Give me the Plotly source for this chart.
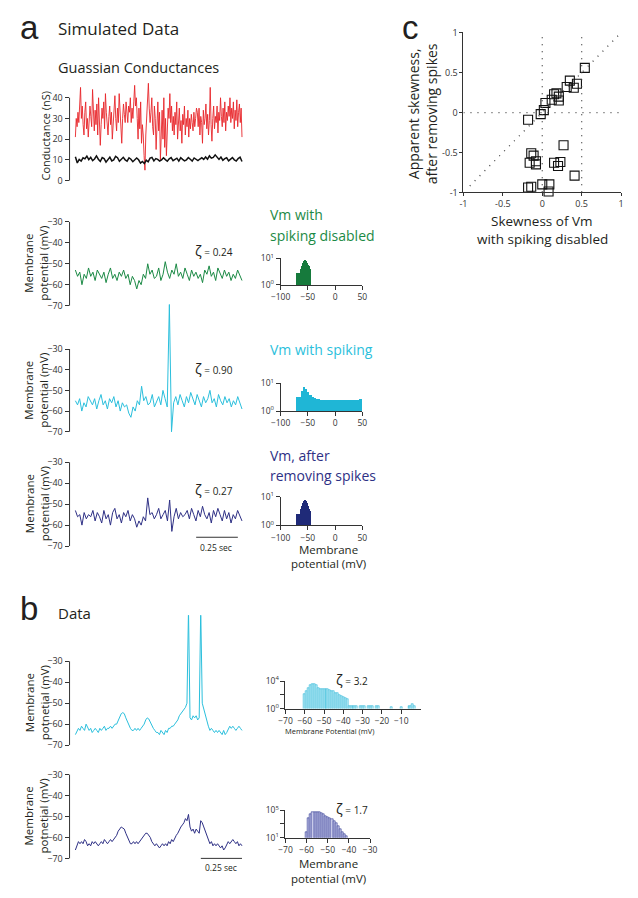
import numpy as np
import plotly.graph_objects as go

# the page keeps an 8px body margin, so the figure is drawn 16px smaller than the window
PAGE_W, PAGE_H, M = 638, 898, 8
W, H = PAGE_W - 2 * M, PAGE_H - 2 * M
FONT = "Open Sans"
INK = "#231f20"
RED = "#e8262a"
GREEN = "#1b8a45"
CYAN = "#2bbfdc"
NAVY = "#2e3085"

# ---------------- panel a: simulated data ----------------
g_exc = [21, 30, 26, 33, 28, 38, 45, 30, 36, 27, 22, 33, 38, 25, 30, 21, 28, 36, 31, 26,
         44, 30, 24, 34, 27, 37, 22, 40, 29, 17, 27, 35, 30, 38, 25, 42, 33, 28, 22, 31,
         36, 27, 33, 20, 29, 38, 41, 30, 24, 35, 28, 42, 35, 26, 18, 30, 37, 32, 28, 38,
         30, 28, 36, 33, 40, 28, 35, 30, 38, 46, 36, 40, 30, 20, 35, 25, 38, 18, 27, 22,
         12, 5, 22, 30, 38, 47, 35, 28, 33, 40, 26, 22, 36, 30, 15, 28, 38, 24, 33, 10,
         26, 34, 20, 40, 16, 30, 12, 27, 35, 30, 42, 28, 36, 24, 31, 22, 33, 27, 38, 20,
         30, 35, 24, 29, 18, 32, 27, 36, 22, 30, 26, 34, 21, 30, 25, 32, 28, 24, 33, 26,
         30, 35, 33, 26, 35, 22, 31, 28, 18, 34, 27, 30, 37, 25, 32, 22, 29, 45, 27, 19,
         30, 36, 25, 31, 28, 36, 23, 33, 29, 40, 31, 26, 35, 28, 38, 24, 33, 29, 36, 31,
         40, 28, 35, 30, 38, 25, 34, 29, 39, 26, 33, 37, 28, 35, 21]
g_inh = [11.5, 8.5, 10.2, 9.4, 11.0, 10.5, 11.8, 10.1, 11.2, 9.6, 10.4, 11.9, 10.3, 9.2, 11.1,
         10.6, 8.9, 10.2, 11.3, 9.5, 10.0, 11.7, 11.0, 9.3, 10.4, 11.2, 10.0, 9.4, 11.0, 10.3,
         9.1, 10.2, 10.9, 10.0, 8.4, 9.2, 8.2, 9.8, 9.0, 10.8, 11.2, 9.5, 10.6, 10.2, 9.4,
         10.0, 11.0, 10.1, 9.3, 10.5, 11.1, 9.6, 10.2, 10.8, 9.4, 11.0, 10.2, 9.5, 10.0, 11.1,
         10.3, 9.4, 10.9, 10.0, 9.6, 10.4, 11.0, 10.2, 11.4, 10.3, 11.9, 10.8, 11.2, 12.4, 11.0,
         10.2, 11.3, 9.8, 10.6, 11.0, 9.5, 10.2, 11.1, 10.0, 9.4, 10.6, 11.3, 9.2]

vm_nospike = [-53, -56, -54, -60, -55, -57, -52, -56, -54, -58, -53, -55, -57, -54, -59, -55,
              -52, -57, -55, -58, -54, -56, -53, -57, -55, -60, -56, -58, -62, -58, -60, -55,
              -57, -50, -55, -53, -57, -56, -52, -58, -55, -49, -54, -57, -53, -55, -50, -56,
              -54, -57, -52, -55, -58, -53, -56, -54, -57, -55, -59, -53, -55, -51, -56, -54,
              -58, -52, -55, -57, -53, -56, -54, -58, -55, -57, -53, -56, -58]
vm_spiking = [-55, -57, -54, -60, -56, -58, -53, -55, -57, -54, -59, -55, -52, -57, -55, -59,
              -54, -56, -53, -58, -55, -60, -56, -58, -57, -61, -63, -58, -60, -55, -57, -48,
              -55, -53, -57, -56, -52, -58, -55, -53, -57, -50, -54, -58, -8.5, -70, -56, -53,
              -57, -52, -55, -58, -53, -56, -51, -54, -57, -52, -55, -58, -53, -56, -54, -50,
              -56, -54, -58, -52, -55, -57, -53, -56, -54, -58, -55, -57, -53, -56, -59]
vm_removed = [-53, -56, -55, -60, -54, -57, -55, -56, -53, -58, -54, -56, -59, -53, -57, -55,
              -60, -54, -52, -57, -55, -59, -54, -56, -53, -58, -55, -57, -61, -58, -60, -56,
              -58, -47, -55, -54, -57, -55, -52, -57, -55, -53, -58, -48, -63, -56, -52, -57,
              -54, -56, -55, -53, -57, -52, -55, -58, -53, -56, -51, -55, -57, -54, -59, -53,
              -56, -52, -55, -58, -53, -57, -54, -59, -55, -57, -53, -56, -58]

# histograms (bin centres in mV, counts)
sim_bins = [-70, -68, -66, -64, -62, -60, -58, -56, -54, -52, -50, -48, -46]
hist_nospike = [2.7, 2.7, 2.7, 4.0, 5.2, 6.6, 7.9, 8.5, 7.9, 6.6, 5.6, 4.8, 4.0]
hist_removed = [2.6, 2.6, 2.6, 3.7, 4.8, 6.0, 7.2, 7.6, 7.2, 6.0, 4.8, 3.9, 3.2]
spk_bins = [-70, -66, -62, -58, -54, -50, -46, -42, -38, -34, -30, -26, -22, -18, -14,
            -10, -6, -2, 2, 6, 10, 14, 18, 22, 26, 30, 34, 38, 42, 46]
hist_spiking = [3.1, 3.2, 5.0, 7.1, 6.3, 4.6, 3.7, 3.2, 2.9, 2.7, 2.6, 2.5, 2.5, 2.45, 2.45,
                2.4, 2.4, 2.4, 2.4, 2.4, 2.4, 2.4, 2.4, 2.4, 2.4, 2.45, 2.45, 2.45, 2.5, 2.6]

# ---------------- panel b: recorded data ----------------
data_vm = [-65, -63, -62, -63, -61, -62, -63, -60, -62, -63, -62, -64, -63, -62, -63, -64,
           -62, -63, -62, -61, -63, -62, -62, -61, -62, -61, -60, -60, -58, -56, -55, -54.5,
           -55, -57, -59, -61, -62, -63, -63, -62, -63, -62, -63, -62, -61, -60, -58, -57,
           -57.5, -59, -61, -62, -63, -64, -64, -65, -63, -64, -65, -63, -64, -62, -62, -61,
           -61, -60, -59, -58, -56, -55, -54, -53, -52, -50, -5, -57, -58, -56, -57, -56,
           -58, -57, -5, -50, -53, -56, -59, -61, -63, -62, -63, -64, -63, -64, -63, -64,
           -65, -63, -65, -64, -62, -61, -62, -61, -62, -63, -62, -61, -62, -63]
data_removed = [-66, -64, -62, -63, -62, -63, -61, -62, -64, -63, -64, -62, -63, -62, -63, -64,
                -63, -62, -63, -61, -62, -63, -62, -61, -62, -61, -60, -59, -57, -56, -55, -55.5,
                -56, -58, -60, -62, -63, -63, -62, -63, -62, -63, -62, -61, -60, -59, -58, -58,
                -59, -60, -62, -63, -64, -63, -64, -65, -64, -63, -64, -63, -64, -62, -63, -61,
                -62, -60, -59, -58, -56, -55, -54, -53, -51, -52, -49, -55, -57, -56, -58, -56,
                -57, -58, -52, -53, -55, -57, -59, -61, -63, -62, -64, -63, -64, -63, -64, -65,
                -64, -66, -65, -63, -62, -63, -62, -61, -62, -63, -62, -64, -63, -64]

data_bins = [-60, -59, -58, -57, -56, -55, -54, -53, -52, -51, -50, -49, -48, -47, -46, -45,
             -44, -43, -42, -41, -40, -39, -38, -37, -36, -35, -34, -33, -31, -30, -29, -27,
             -26, -25, -23, -22, -15, -10, -6, -5, -4, -3]
data_hist = [126, 398, 891, 2818, 3715, 3548, 2512, 1000, 794, 759, 759, 794, 708, 501, 398,
             316, 200, 158, 100, 79, 50, 32, 25, 2.5, 2.2, 2.2, 2.1, 2.2, 2.2, 2.1, 2.2, 2.1,
             2.2, 2.1, 2.1, 2.1, 2.0, 2.0, 2.8, 2.8, 4.0, 2.8]
removed_bins = [-60, -59, -58, -57, -56, -55, -54, -53, -52, -51, -50, -49, -48, -47, -46,
                -45, -44, -43, -42, -41]
removed_hist = [71, 6310, 22900, 44700, 57500, 57500, 44700, 31600, 22900, 15800, 10000,
                7940, 5010, 2820, 1260, 562, 200, 71, 30, 17]

# ---------------- panel c: skewness scatter ----------------
skew_nospike = [0.54, 0.35, 0.31, 0.40, 0.44, 0.15, 0.18, 0.21, 0.12, 0.21, 0.04, 0.02, -0.02,
                -0.18, 0.27, -0.14, -0.11, -0.16, -0.08, -0.08, 0.15, 0.23, 0.20, 0.41, 0.00,
                0.09, -0.18, -0.14, 0.08]
skew_removed = [0.56, 0.40, 0.32, 0.31, 0.36, 0.23, 0.24, 0.20, 0.16, 0.15, 0.12, 0.03, -0.02,
                -0.09, -0.41, -0.51, -0.54, -0.63, -0.61, -0.65, -0.63, -0.62, -0.67, -0.79,
                -0.90, -0.90, -0.94, -0.93, -0.99]


# positions below are measured in window pixels of the 638x898 picture
def fx(px):
    return (px - M) / W


def fy(py):
    return 1 - (py - M) / H


def dom(p1, v1, p2, v2, lo, hi, vertical):
    s = (p2 - p1) / (v2 - v1)
    a = p1 + (lo - v1) * s
    b = p1 + (hi - v1) * s
    if vertical:
        return sorted([fy(a), fy(b)])
    return sorted([fx(a), fx(b)])


tick_font = dict(size=9, color="#333", family=FONT)
base_axis = dict(showgrid=False, zeroline=False, ticks="outside", ticklen=4, tickwidth=1,
                 tickcolor="#333", linecolor="#333", linewidth=1, tickfont=tick_font)

fig = go.Figure()
layout = {}

T_RANGE = [-0.035, 1.01]
T_DOM = [fx(61), fx(240)]


def trace_axes(n, y_m70, y_m30, top, vals, color, lo=-71, ticks=(-70, -60, -50, -40, -30)):
    t = np.linspace(0, 1, len(vals))
    fig.add_trace(go.Scatter(x=t, y=vals, mode="lines", line=dict(color=color, width=1),
                             xaxis=f"x{n}", yaxis=f"y{n}", showlegend=False, hoverinfo="skip"))
    layout[f"xaxis{n}"] = dict(domain=T_DOM, range=T_RANGE, visible=False, anchor=f"y{n}")
    layout[f"yaxis{n}"] = dict(base_axis, domain=dom(y_m70, ticks[0], y_m30, ticks[-1], lo, top, True),
                               range=[lo, top], tickvals=list(ticks), showline=False,
                               anchor=f"x{n}")
    fig.add_shape(type="line", xref="paper", yref=f"y{n}", x0=fx(61), x1=fx(61),
                  y0=ticks[0], y1=ticks[-1], line=dict(color="#333", width=1))


def hist_axes(n, xpx, xvals, xrange, ypx, yvals, yrange, bins, counts, width, xticks,
              ytickvals, yticktext, fill, edge=None):
    fig.add_trace(go.Bar(x=bins, y=counts, width=width, xaxis=f"x{n}", yaxis=f"y{n}",
                         marker=dict(color=fill, line=dict(color=edge or fill, width=0.6 if edge else 0)),
                         showlegend=False, hoverinfo="skip"))
    layout[f"xaxis{n}"] = dict(base_axis, domain=dom(xpx[0], xvals[0], xpx[1], xvals[1], *xrange, False),
                               range=list(xrange), tickvals=xticks, showline=True,
                               anchor=f"y{n}", tickfont=dict(size=8.5, color="#333", family=FONT))
    layout[f"yaxis{n}"] = dict(base_axis, domain=dom(ypx[0], yvals[0], ypx[1], yvals[1], *yrange, True),
                               type="log", range=list(yrange), tickvals=ytickvals,
                               ticktext=yticktext, showline=True, anchor=f"x{n}",
                               tickfont=dict(size=8.5, color="#333", family=FONT))


# conductances
t_e = np.linspace(0, 1, len(g_exc))
t_i = np.linspace(0, 1, len(g_inh))
fig.add_trace(go.Scatter(x=t_e, y=g_exc, mode="lines", line=dict(color=RED, width=0.9),
                         xaxis="x1", yaxis="y1", showlegend=False, hoverinfo="skip"))
fig.add_trace(go.Scatter(x=t_i, y=g_inh, mode="lines", line=dict(color="#111", width=1.5),
                         xaxis="x1", yaxis="y1", showlegend=False, hoverinfo="skip"))
layout["xaxis1"] = dict(domain=T_DOM, range=T_RANGE, visible=False, anchor="y1")
layout["yaxis1"] = dict(base_axis, domain=dom(176, 0, 92, 40, -0.5, 48, True), range=[-0.5, 48],
                        tickvals=[0, 10, 20, 30, 40], showline=False, anchor="x1")
fig.add_shape(type="line", xref="paper", yref="y1", x0=fx(61), x1=fx(61), y0=0, y1=40,
              line=dict(color="#333", width=1))

# simulated membrane potential traces
trace_axes(2, 303, 218, -28, vm_nospike, GREEN)
trace_axes(4, 431, 347, -8, vm_spiking, CYAN)
trace_axes(6, 547, 462, -28, vm_removed, NAVY)

sim_x = dict(xpx=(278, 362), xvals=(-100, 50), xrange=(-100, 50), xticks=[-100, -50, 0, 50],
             ytickvals=[1, 10], yticktext=["10<sup>0</sup>", "10<sup>1</sup>"], yrange=(0, 1))
hist_axes(3, ypx=(282, 255), yvals=(0, 1), bins=sim_bins, counts=hist_nospike, width=2,
          fill="#167a3c", **sim_x)
hist_axes(5, ypx=(410, 382), yvals=(0, 1), bins=spk_bins, counts=hist_spiking, width=4,
          fill="#1fb6d6", **sim_x)
hist_axes(7, ypx=(526, 497), yvals=(0, 1), bins=sim_bins, counts=hist_removed, width=2,
          fill="#1f2a78", **sim_x)

# recorded traces
trace_axes(8, 749, 664, -8, data_vm, CYAN)
trace_axes(10, 864, 779, -28, data_removed, NAVY)

hist_axes(9, xpx=(283, 402), xvals=(-70, -10), xrange=(-70, 0),
          ypx=(712, 684), yvals=(0, 4), yrange=(0, 4), bins=data_bins, counts=data_hist, width=1,
          xticks=[-70, -60, -50, -40, -30, -20, -10], ytickvals=[1, 100, 10000],
          yticktext=["10<sup>0</sup>", "", "10<sup>4</sup>"], fill="#c4ecf6", edge="#2bb8d8")
hist_axes(11, xpx=(283, 370), xvals=(-70, -30), xrange=(-70, -30),
          ypx=(843, 815), yvals=(1, 5), yrange=(1, 5), bins=removed_bins, counts=removed_hist,
          width=1, xticks=[-70, -60, -50, -40, -30], ytickvals=[10, 1000, 100000],
          yticktext=["10<sup>1</sup>", "", "10<sup>5</sup>"], fill="#c9cbea", edge="#2e3590")

# panel c scatter
fig.add_trace(go.Scatter(x=skew_nospike, y=skew_removed, mode="markers", cliponaxis=False,
                         marker=dict(symbol="square-open", size=9, color="#111",
                                     line=dict(width=1.1, color="#111")),
                         xaxis="x12", yaxis="y12", showlegend=False, hoverinfo="skip"))
layout["xaxis12"] = dict(base_axis, domain=dom(466, -1, 628, 1, -1, 1, False), range=[-1, 1],
                         tickvals=[-1, -0.5, 0, 0.5, 1], ticktext=["-1", "-0.5", "0", "0.5", "1"],
                         showline=True, anchor="y12", ticklen=3)
layout["yaxis12"] = dict(base_axis, domain=dom(188, -1, 107, 0, -1, 1.01, True), range=[-1, 1.01],
                         tickvals=[-1, -0.5, 0, 0.5, 1], ticktext=["-1", "-0.5", "0", "0.5", "1"],
                         showline=True, anchor="x12", ticklen=3)
dot = dict(color="#444", width=1.3, dash="1px,6px")
for xv in (0, 0.5):
    fig.add_shape(type="line", xref="x12", yref="y12", x0=xv, x1=xv, y0=-1, y1=1.01, line=dot)
fig.add_shape(type="line", xref="x12", yref="y12", x0=-1, x1=1, y0=0, y1=0, line=dot)
fig.add_shape(type="line", xref="x12", yref="y12", x0=-0.92, x1=1, y0=-0.92, y1=1, line=dot)

# scale bars (0.25 s)
fig.add_shape(type="line", xref="x6", yref="y6", x0=0.725, x1=0.975, y0=-65.8, y1=-65.8,
              line=dict(color="#333", width=1))
fig.add_shape(type="line", xref="x10", yref="y10", x0=0.753, x1=1.0, y0=-70, y1=-70,
              line=dict(color="#333", width=1))


def note(xp, yp, text, size, color=INK, xanchor="left", family=FONT, angle=0):
    fig.add_annotation(x=fx(xp), y=fy(yp), xref="paper", yref="paper", text=text,
                       showarrow=False, xanchor=xanchor, yanchor="middle", textangle=angle,
                       font=dict(size=size, color=color, family=family))


zeta = "<span style='font-size:14px'>ζ</span> = "
note(8, 21, "a", 33, family="Liberation Sans")
note(47, 22, "Simulated Data", 17)
note(47, 61, "Guassian Conductances", 14.5)
note(36, 131, "Conductance (nS)", 11, xanchor="center", angle=-90)
for yc in (260, 389, 504):
    note(27, yc, "Membrane<br>potential (mV)", 11.5, xanchor="center", angle=-90)
for yc in (706, 821):
    note(27, yc, "Membrane<br>potnetial (mV)", 11.5, xanchor="center", angle=-90)
note(210, 247, zeta + "0.24", 10, xanchor="center")
note(210, 367, zeta + "0.90", 10, xanchor="center")
note(210, 490, zeta + "0.27", 10, xanchor="center")
note(265, 210, "Vm with", 14, GREEN)
note(265, 232, "spiking disabled", 14, GREEN)
note(265, 348, "Vm with spiking", 14, CYAN)
note(265, 455, "Vm, after", 14, NAVY)
note(265, 475, "removing spikes", 14, NAVY)
note(327, 550, "Membrane", 11.5, xanchor="center")
note(327, 565, "potential (mV)", 11.5, xanchor="center")
note(212, 548, "0.25 sec", 8.5, xanchor="center")
note(8, 610, "b", 33, family="Liberation Sans")
note(47, 615, "Data", 15)
note(351, 682, zeta + "3.2", 10, xanchor="center")
note(328, 735, "Membrane Potential (mV)", 7.5, xanchor="center")
note(351, 813, zeta + "1.7", 10, xanchor="center")
note(327, 869, "Membrane", 11.5, xanchor="center")
note(327, 884, "potential (mV)", 11.5, xanchor="center")
note(217, 873, "0.25 sec", 8.5, xanchor="center")
note(412, 21, "c", 33, xanchor="center", family="Liberation Sans")
note(424, 108, "Apparent skewness,<br>after removing spikes", 14, xanchor="center", angle=-90)
note(547, 217, "Skewness of Vm", 13.5, xanchor="center")
note(547, 235, "with spiking disabled", 13.5, xanchor="center")

fig.update_layout(width=W, height=H, autosize=False, margin=dict(l=0, r=0, t=0, b=0),
                  paper_bgcolor="white", plot_bgcolor="white",
                  font=dict(family=FONT, color=INK), bargap=0, **layout)
fig.write_html("out.html")
